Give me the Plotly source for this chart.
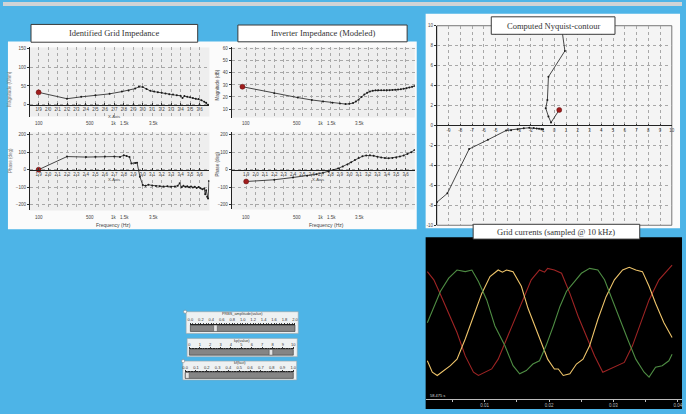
import plotly.graph_objects as go

W, H = 686, 414

# ---------------- data ----------------
bode_ticks = [1.9, 2.0, 2.1, 2.2, 2.3, 2.4, 2.5, 2.6, 2.7, 2.8, 2.9, 3.0, 3.1, 3.2, 3.3, 3.4, 3.5, 3.6]
freq_labels = ["100", "500", "1k", "1.5k", "3.5k"]
freq_label_pos = [1.9, 2.44, 2.70, 2.81, 3.11]

grid_mag_ticks = [0, 50, 100, 150]
grid_ph_ticks = [-200, -100, 0, 100, 200]
inv_mag_ticks = [10, 20, 30, 40, 50, 60]
inv_ph_ticks = [-200, -100, 0, 100, 200]

grid_mag_x = [1.9, 2.2, 2.35, 2.5, 2.65, 2.78, 2.85, 2.92, 2.96, 3.0, 3.04, 3.08, 3.12, 3.16, 3.2,
              3.24, 3.28, 3.32, 3.36, 3.4, 3.42, 3.44, 3.47, 3.5, 3.53, 3.56, 3.59, 3.62, 3.65, 3.67, 3.69]
grid_mag_y = [33, 16, 21, 25, 29, 35, 38, 43, 48, 47, 42, 37, 35, 33, 32,
              30, 28, 27, 25, 24, 18, 23, 21, 20, 18, 16, 15, 12, 8, 5, 0]

grid_ph_x = [1.9, 2.2, 2.4, 2.5, 2.6, 2.7, 2.76, 2.8, 2.83, 2.86, 2.88, 2.92, 2.94, 2.97, 3.0,
             3.03, 3.06, 3.1, 3.14, 3.18, 3.22, 3.26, 3.3, 3.34, 3.37, 3.39, 3.41, 3.43, 3.45,
             3.47, 3.49, 3.51, 3.53, 3.55, 3.57, 3.59, 3.61, 3.63, 3.65, 3.66, 3.67, 3.68, 3.69, 3.7]
grid_ph_y = [0, 75, 72, 74, 75, 75, 73, 82, 78, 72, 36, 38, 40, -40, -88,
             -92, -86, -90, -93, -95, -96, -95, -97, -96, -92, -78, -100, -92, -98,
             -95, -100, -96, -102, -98, -104, -99, -106, -112, -108, -140, -118, -155, -165, -65]

inv_mag_x = [1.86, 2.2, 2.45, 2.6, 2.72, 2.82, 2.9, 2.96, 3.0, 3.04, 3.07, 3.1, 3.13, 3.16, 3.19, 3.22,
             3.25, 3.28, 3.31, 3.34, 3.37, 3.4, 3.43, 3.46, 3.49, 3.52, 3.55, 3.58, 3.61, 3.64, 3.67, 3.695]
inv_mag_y = [28.5, 23, 19.5, 17.5, 16.2, 15.2, 14.5, 14.1, 14.3, 15, 16.2, 17.8, 20, 22, 23.6, 24.6,
             25.2, 25.5, 25.6, 25.5, 25.5, 25.5, 25.6, 25.7, 25.9, 26.1, 26.4, 26.8, 27.3, 27.8, 28.4, 29.1]

inv_ph_x = [1.9, 2.2, 2.4, 2.55, 2.65, 2.72, 2.78, 2.83, 2.88, 2.93, 2.98, 3.02, 3.06, 3.1, 3.14,
            3.18, 3.22, 3.26, 3.3, 3.34, 3.38, 3.42, 3.46, 3.5, 3.54, 3.58, 3.62, 3.66, 3.695]
inv_ph_y = [-68, -58, -45, -35, -26, -18, -10, -2, 7, 18, 30, 42, 55, 66, 76,
            81, 82, 79, 74, 69, 66, 65, 67, 70, 75, 81, 89, 100, 112]

nyq_xticks = [-9, -8, -7, -6, -5, -4, -3, -2, -1, 0, 1, 2, 3, 4, 5, 6, 7, 8, 9, 10]
nyq_yticks = [-10, -8, -6, -4, -2, 0, 2, 4, 6, 8, 10]
nyq_up_re = [0.42, -0.28, -0.5, -0.73, -0.59, -0.5, 0.9, 0.6]
nyq_up_im = [1.56, 0.3, 0.9, 1.73, 2.56, 4.88, 7.47, 10.0]
nyq_lo_re = [-0.96, -1.1, -1.3, -1.5, -1.75, -2.13, -2.6, -3.12, -3.68, -4.1, -5.65, -7.25, -9.1, -10.0]
nyq_lo_im = [-0.37, -0.36, -0.33, -0.3, -0.26, -0.23, -0.28, -0.37, -0.47, -0.5, -1.43, -2.36, -6.8, -7.7]

# grid currents (three phases)
t_red = [0.00108, 0.00209, 0.00312, 0.0044, 0.00569, 0.00697, 0.00825, 0.00902, 0.01005, 0.01108,
         0.01209, 0.01338, 0.01466, 0.0162, 0.01723, 0.01851, 0.0193, 0.01978, 0.02082, 0.02194,
         0.02323, 0.02451, 0.02578, 0.02708, 0.02835, 0.02938, 0.03066, 0.03169, 0.03297, 0.03425,
         0.03554, 0.03708, 0.03835, 0.03912]
i_red = [9.1, 7.6, 4.9, 1.5, -2.1, -6.4, -9.4, -10.0, -9.4, -8.8,
         -7.0, -3.3, 0.3, 4.5, 7.6, 9.4, 9.0, 9.7, 9.4, 8.8,
         5.1, 0.9, -2.7, -6.4, -9.4, -8.8, -8.2, -7.6, -4.5, -0.3,
         3.9, 7.6, 9.4, 10.3]
t_yel = [0.00108, 0.00185, 0.00262, 0.00363, 0.00466, 0.00569, 0.00697, 0.00825, 0.00954, 0.01082,
         0.01209, 0.01275, 0.01338, 0.0144, 0.01569, 0.01671, 0.01774, 0.01877, 0.01978, 0.02082,
         0.02143, 0.0222, 0.02323, 0.02425, 0.02528, 0.02631, 0.02758, 0.02886, 0.03015, 0.03143,
         0.03246, 0.03348, 0.03451, 0.03554, 0.03655, 0.03785, 0.03912]
i_yel = [-7.3, -9.4, -10.0, -9.1, -8.2, -7.0, -3.3, 0.9, 5.1, 8.2,
         9.4, 9.0, 9.4, 9.1, 6.4, 2.4, -0.9, -3.9, -7.0, -8.8,
         -8.8, -10.0, -9.7, -7.9, -7.0, -4.5, 0.3, 4.5, 7.6, 9.4,
         9.9, 9.4, 9.1, 6.4, 3.3, -0.3, -3.0]
t_grn = [0.00108, 0.00209, 0.00312, 0.0044, 0.00569, 0.00697, 0.008, 0.00902, 0.01031, 0.01158,
         0.01312, 0.0144, 0.01543, 0.01646, 0.01748, 0.01851, 0.01954, 0.02066, 0.02169, 0.02271,
         0.02374, 0.02502, 0.02631, 0.02758, 0.02862, 0.02963, 0.03092, 0.0322, 0.03348, 0.03477,
         0.03554, 0.03655, 0.03758, 0.03862, 0.03912]
i_grn = [-0.3, 2.7, 5.5, 7.9, 9.4, 9.1, 9.4, 7.3, 3.9, -0.9,
         -4.5, -8.2, -9.7, -9.1, -7.9, -7.3, -4.5, -0.9, 2.7, 5.5,
         7.0, 8.8, 9.7, 9.4, 7.6, 4.5, 0.3, -3.3, -7.0, -9.4,
         -10.3, -8.5, -8.2, -7.3, -6.1]
time_ticks = [0.005, 0.01, 0.015, 0.02, 0.025, 0.03, 0.035, 0.04]
time_tick_text = ["", "0.01", "", "0.02", "", "0.03", "", "0.04"]

slider_names = ["PRBS_amplitude(value)", "kp(value)", "kf(fact)"]
slider_ticks_1 = [0.0, 0.2, 0.4, 0.6, 0.8, 1.0, 1.2, 1.4, 1.6, 1.8, 2.0]
slider_ticks_2 = [0, 1, 2, 3, 4, 5, 6, 7, 8, 9, 10]
slider_ticks_3 = [0.0, 0.1, 0.2, 0.3, 0.4, 0.5, 0.6, 0.7, 0.8, 0.9, 1.0]
slider_values = [0.48, 7.85, 0.02]

# ---------------- helpers ----------------
def fx(p):
    return p / W

def fy(p):
    return 1 - p / H

def dx(a, b):
    return [fx(a), fx(b)]

def dy(top, bottom):
    return [fy(bottom), fy(top)]

tick_font = dict(family="Liberation Sans", size=4.5, color="#444")
GRID = "#a8a8a8"

fig = go.Figure()
shapes = []
annotations = []

def rect(x0, y0, x1, y1, fill, line="rgba(0,0,0,0)", lw=0, layer="below"):
    shapes.append(dict(type="rect", xref="paper", yref="paper", x0=fx(x0), x1=fx(x1),
                       y0=fy(y1), y1=fy(y0), fillcolor=fill, line=dict(color=line, width=lw),
                       layer=layer))

def text(x, y, s, size=4.5, color="#444", xref="paper", angle=0, family="Liberation Sans",
         xanchor="center"):
    annotations.append(dict(x=x if xref != "paper" else fx(x), y=fy(y), xref=xref, yref="paper",
                            text=s, showarrow=False, textangle=angle, xanchor=xanchor,
                            yanchor="middle", font=dict(family=family, size=size, color=color)))

# ---------------- backgrounds ----------------
rect(0, 0, 686, 4, "#cfd3d6")
rect(5, 40, 418, 230, "#fbfbfb")
rect(427, 12, 684, 229, "#fbfbfb")
rect(427, 238, 686, 412, "#000000")
# plot areas
rect(27, 46, 208.5, 116, "#eeeeee")
rect(27, 132, 208.5, 211, "#eeeeee")
rect(231, 46, 416, 117, "#eeeeee")
rect(231, 132, 416, 210, "#eeeeee")
rect(438.3, 24, 675.7, 226, "#f4f4f4", "#555", 0.8)

# ---------------- Bode plots ----------------
bode_text = [f"{v:.1f}" for v in bode_ticks]

def bode_x(domain, rng, zero_py, show=True):
    d = dict(domain=domain, range=rng, tickvals=bode_ticks, ticktext=bode_text,
             showgrid=True, gridcolor=GRID, griddash="dot", gridwidth=0.5, zeroline=False,
             tickfont=tick_font, ticks="inside" if show else "", ticklen=2, tickcolor="#333",
             showline=show, linecolor="#222", linewidth=0.8, showticklabels=show, fixedrange=True)
    if zero_py is not None:
        d.update(anchor="free", position=fy(zero_py))
    return d

def bode_y(domain, rng, ticks, anchor):
    return dict(domain=domain, range=rng, tickvals=ticks, anchor=anchor, showgrid=True,
                gridcolor=GRID, griddash="dot", gridwidth=0.5, zeroline=False, showline=True,
                linecolor="#222", linewidth=0.8, ticks="outside", ticklen=2, tickcolor="#333",
                tickfont=tick_font, fixedrange=True)

layout_axes = {}
layout_axes["xaxis"] = bode_x(dx(27, 208.5), [1.806, 3.704], 104)
layout_axes["yaxis"] = bode_y(dy(46, 116), [-31.6, 152.6], grid_mag_ticks, "x")
layout_axes["xaxis2"] = bode_x(dx(27, 208.5), [1.806, 3.704], 169.7)
layout_axes["yaxis2"] = bode_y(dy(132, 211), [-233, 213], grid_ph_ticks, "x2")
layout_axes["xaxis3"] = bode_x(dx(231, 416), [1.745, 3.698], None, show=False)
layout_axes["xaxis3"]["anchor"] = "y3"
layout_axes["yaxis3"] = bode_y(dy(46, 117), [2.9, 61.1], inv_mag_ticks, "x3")
layout_axes["xaxis4"] = bode_x(dx(231, 416), [1.745, 3.698], 169.7)
layout_axes["yaxis4"] = bode_y(dy(132, 210), [-228, 213], inv_ph_ticks, "x4")

def add_bode(x, y, xa, ya):
    fig.add_trace(go.Scatter(x=x, y=y, xaxis=xa, yaxis=ya, mode="lines+markers",
                             line=dict(color="#1a1a1a", width=0.8),
                             marker=dict(size=2, color="#1a1a1a"), hoverinfo="skip"))
    fig.add_trace(go.Scatter(x=[x[0]], y=[y[0]], xaxis=xa, yaxis=ya, mode="markers",
                             marker=dict(size=5, color="#a01c1c",
                                         line=dict(color="#5a0a0a", width=0.5)),
                             hoverinfo="skip"))

add_bode(grid_mag_x, grid_mag_y, "x", "y")
add_bode(grid_ph_x, grid_ph_y, "x2", "y2")
add_bode(inv_mag_x, inv_mag_y, "x3", "y3")
add_bode(inv_ph_x, inv_ph_y, "x4", "y4")

for xr, row_y in (("x", 123), ("x2", 218), ("x3", 123), ("x4", 218)):
    for lab, pos in zip(freq_labels, freq_label_pos):
        text(pos, row_y, lab, size=4.5, xref=xr)

text(112, 115.5, "X-Axis", size=4.2)
text(112, 180, "X-Axis", size=4.2)
text(318.3, 180, "X-Axis", size=4.2)
text(112, 225.7, "Frequency (Hz)", size=5)
text(326.7, 225.7, "Frequency (Hz)", size=5)
text(7, 88, "Magnitude (Ohm)", angle=-90, color="#777")
text(7, 160, "Phase (deg)", angle=-90, color="#777")
text(216.7, 84, "Magnitude (dB)", angle=-90)
text(216.7, 164, "Phase (deg)", angle=-90)

# ---------------- Nyquist ----------------
layout_axes["xaxis5"] = dict(domain=dx(438.3, 675.7), range=[-10, 10], anchor="free",
                             position=fy(125), tickvals=nyq_xticks,
                             ticktext=[str(v) for v in nyq_xticks], showgrid=True,
                             gridcolor=GRID, griddash="dot", gridwidth=0.5, zeroline=False,
                             showline=True, linecolor="#222", linewidth=0.8, ticks="inside",
                             ticklen=2, tickcolor="#333", tickfont=tick_font, fixedrange=True)
layout_axes["yaxis5"] = dict(domain=dy(24, 226), range=[-10, 10], anchor="x5",
                             tickvals=nyq_yticks, ticktext=[str(v) for v in nyq_yticks],
                             showgrid=True, gridcolor=GRID, griddash="dot", gridwidth=0.5,
                             zeroline=False, showline=True, linecolor="#222", linewidth=0.8,
                             ticks="outside", ticklen=2, tickcolor="#333", tickfont=tick_font,
                             fixedrange=True)
for re_, im_ in ((nyq_up_re, nyq_up_im), (nyq_lo_re, nyq_lo_im)):
    fig.add_trace(go.Scatter(x=re_, y=im_, xaxis="x5", yaxis="y5", mode="lines+markers",
                             line=dict(color="#1a1a1a", width=0.8),
                             marker=dict(size=2, color="#1a1a1a"), hoverinfo="skip"))
fig.add_trace(go.Scatter(x=[nyq_up_re[0]], y=[nyq_up_im[0]], xaxis="x5", yaxis="y5",
                         mode="markers", marker=dict(size=5, color="#a01c1c",
                                                     line=dict(color="#5a0a0a", width=0.5)),
                         hoverinfo="skip"))

# ---------------- Grid currents ----------------
layout_axes["xaxis6"] = dict(domain=dx(427, 686), range=[0.000815, 0.04066], anchor="y6",
                             tickvals=time_ticks, ticktext=time_tick_text, showgrid=False,
                             zeroline=False, showline=True, linecolor="#bdbdbd", linewidth=0.8,
                             ticks="outside", ticklen=2, tickcolor="#bdbdbd",
                             tickfont=dict(family="Liberation Sans", size=4.5, color="#bbbbbb"),
                             fixedrange=True)
layout_axes["yaxis6"] = dict(domain=dy(238, 401.7), range=[-14.3, 15.45], anchor="x6",
                             visible=False, fixedrange=True)
for t, i, c in ((t_red, i_red, "#9e2424"), (t_yel, i_yel, "#eec46a"), (t_grn, i_grn, "#4e8c43")):
    fig.add_trace(go.Scatter(x=t, y=i, xaxis="x6", yaxis="y6", mode="lines",
                             line=dict(color=c, width=1.1), hoverinfo="skip"))
text(429, 398, "58.475 s", size=4, color="#dddddd", xanchor="left")

# ---------------- Sliders ----------------
slider_boxes = [(185, 313.5, 298.3, 335.5), (186, 340.5, 297.3, 359), (181.7, 363.5, 296.7, 382.5)]
slider_tracks = [(189.3, 327, 295, 333.5), (188.3, 351.7, 293.3, 357.5), (184, 375, 293.3, 381)]
slider_ranges = [[0, 2], [0, 10], [0, 1]]
slider_ticks = [slider_ticks_1, slider_ticks_2, slider_ticks_3]
slider_fmt = ["{:.1f}", "{:d}", "{:.1f}"]
slider_minor = [0.05, 0.25, 0.025]
slider_thumb_w = [0.07, 0.35, 0.035]
for k in range(3):
    bx0, by0, bx1, by1 = slider_boxes[k]
    tx0, ty0, tx1, ty1 = slider_tracks[k]
    rect(bx0, by0, bx1, by1, "#eef1f2", "#9aa4a8", 0.6)
    rect(tx0, ty0, tx1, ty1, "#858585", "#333333", 0.6)
    n = k + 7
    layout_axes[f"xaxis{n}"] = dict(domain=dx(tx0, tx1), range=slider_ranges[k], anchor=f"y{n}",
                                    side="top", tickvals=slider_ticks[k],
                                    ticktext=[slider_fmt[k].format(v) for v in slider_ticks[k]],
                                    ticks="outside", ticklen=1.4, tickcolor="#333",
                                    minor=dict(ticks="outside", ticklen=0.8, dtick=slider_minor[k],
                                               tick0=0, tickcolor="#555", showgrid=False),
                                    showgrid=False, zeroline=False, showline=True,
                                    linecolor="#222", linewidth=0.6,
                                    tickfont=dict(family="Liberation Sans", size=4, color="#333"),
                                    fixedrange=True)
    layout_axes[f"yaxis{n}"] = dict(domain=dy(ty0, ty1), range=[0, 1], anchor=f"x{n}",
                                    visible=False, fixedrange=True)
    fig.add_trace(go.Bar(x=[slider_values[k]], y=[1], base=[0], width=[slider_thumb_w[k]],
                         xaxis=f"x{n}", yaxis=f"y{n}", marker=dict(color="#e4e4e4",
                         line=dict(color="#555", width=0.6)), hoverinfo="skip"))
    text((bx0 + bx1) / 2, by0 + 2.3, slider_names[k], size=3.8, color="#333")
for cx, cy in ((184, 313.5), (182, 363.5)):
    shapes.append(dict(type="circle", xref="paper", yref="paper", x0=fx(cx - 1.6), x1=fx(cx + 1.6),
                       y0=fy(cy + 1.6), y1=fy(cy - 1.6), fillcolor="#ffffff",
                       line=dict(color="#888", width=0.6), layer="above"))

# ---------------- Title boxes ----------------
titles = [("Identified Grid Impedance", 28.3, 22.7, 196.7, 40.7),
          ("Inverter Impedance (Modeled)", 237.3, 23.3, 408.3, 40.3),
          ("Computed Nyquist-contour", 493.3, 15, 618.3, 32.7),
          ("Grid currents (sampled @ 10 kHz)", 475, 225, 643.3, 240)]
for s, x0, y0, x1, y1 in titles:
    rect(x0, y0, x1, y1, "#ffffff", "#3a3a3a", 1, layer="above")
    text((x0 + x1) / 2, (y0 + y1) / 2, s, size=8.5, color="#333333", family="Liberation Serif")

fig.update_layout(width=W, height=H, margin=dict(l=0, r=0, t=0, b=0),
                  paper_bgcolor="#4db4e7", plot_bgcolor="rgba(0,0,0,0)",
                  showlegend=False, shapes=shapes, annotations=annotations, **layout_axes)

fig.write_html("out.html", config={"displayModeBar": False},
               post_script="document.body.style.margin='0px';")
